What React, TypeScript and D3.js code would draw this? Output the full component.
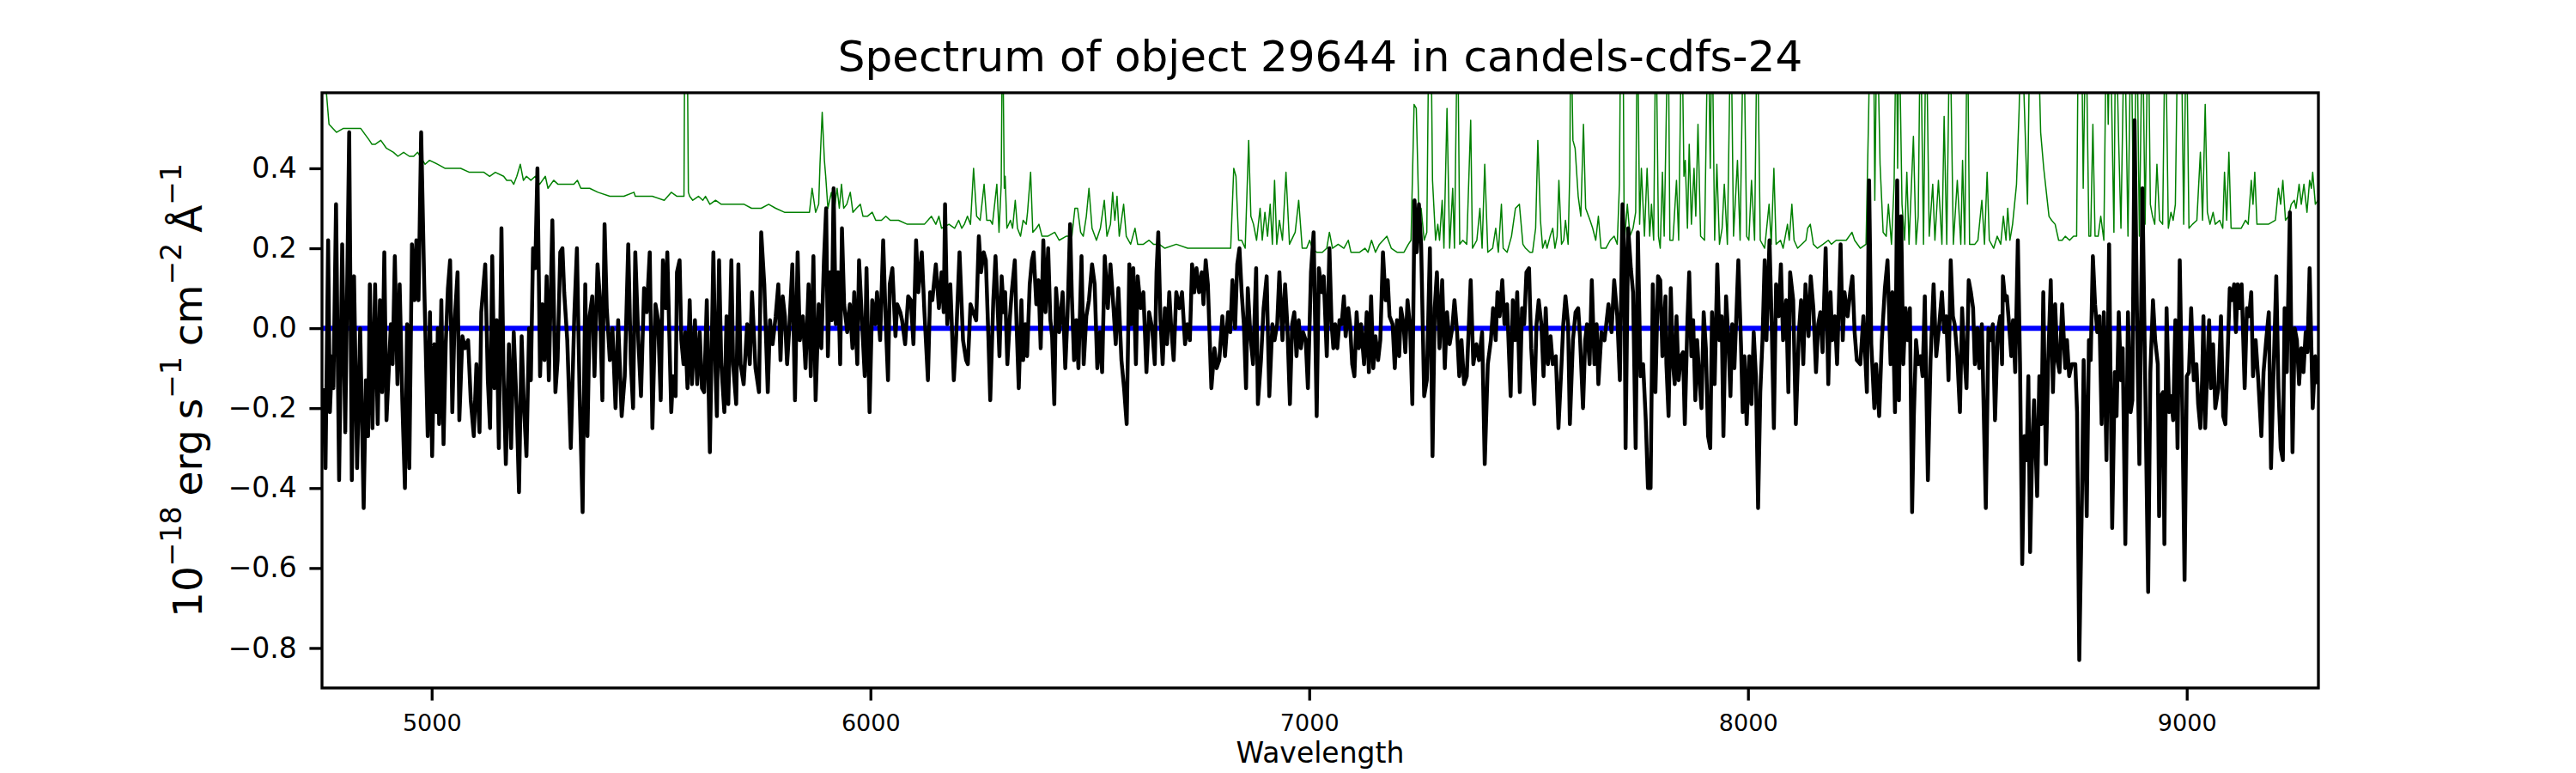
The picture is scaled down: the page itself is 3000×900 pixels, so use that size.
import { useRef, useEffect } from 'react';
import * as d3 from 'd3';

type Pt = [number, number];

const chartTitle = 'Spectrum of object 29644 in candels-cdfs-24';
const xLabel = 'Wavelength';
const xTickValues = [5000, 6000, 7000, 8000, 9000];
const yTickValues = [-0.8, -0.6, -0.4, -0.2, 0.0, 0.2, 0.4];
const wavelengthRange: [number, number] = [4750, 9300];
const fluxRange: [number, number] = [-0.9, 0.589];
const zeroLevel = 0;

// object flux (black), [wavelength, flux] in ~760 A chunks
const flux4750: Pt[] = [
  [4753, -0.15], [4758, -0.35], [4764, 0.22], [4768, -0.21], [4773, -0.07], [4776, -0.15], [4782, 0.31], [4789, -0.38], [4796, 0.21], [4803, -0.26],
  [4812, 0.49], [4818, -0.38], [4823, 0.13], [4830, -0.35], [4837, 0.0], [4845, -0.45], [4850, -0.13], [4855, -0.27], [4859, 0.11], [4865, -0.25],
  [4871, 0.11], [4877, -0.24], [4882, 0.07], [4887, -0.16], [4892, 0.19], [4897, -0.23], [4907, 0.01], [4911, -0.09], [4916, 0.18], [4922, -0.14],
  [4927, 0.11], [4933, -0.18], [4939, -0.4], [4944, 0.01], [4949, -0.35], [4955, 0.21], [4961, 0.07], [4965, 0.22], [4970, 0.07], [4976, 0.49],
  [4983, 0.11], [4991, -0.27], [4996, 0.04], [5001, -0.32], [5006, -0.04], [5011, -0.21], [5014, 0.0], [5017, -0.24], [5022, 0.07], [5027, -0.29],
  [5032, -0.04], [5037, 0.1], [5042, 0.17], [5047, -0.21], [5052, 0.01], [5059, 0.14], [5063, -0.23], [5070, -0.02], [5076, -0.05], [5083, -0.03],
  [5089, -0.18], [5096, -0.27], [5102, -0.09], [5109, -0.26], [5113, 0.04], [5122, 0.16], [5128, -0.13], [5133, -0.25], [5138, 0.18], [5143, -0.15],
  [5148, 0.02], [5153, -0.3], [5159, 0.25], [5164, -0.13], [5169, -0.34], [5176, -0.04], [5181, -0.3], [5187, -0.01], [5194, -0.21], [5199, -0.41],
  [5205, -0.02], [5210, -0.19], [5216, -0.32], [5222, 0.0], [5226, -0.13], [5231, 0.2], [5236, 0.15], [5241, 0.4], [5247, -0.12], [5252, 0.06],
  [5257, -0.08], [5262, 0.13], [5267, -0.13], [5275, 0.27], [5282, -0.16], [5287, -0.08], [5293, 0.19], [5298, 0.2], [5302, 0.09], [5309, -0.03],
  [5317, -0.3], [5325, 0.03], [5331, 0.2], [5337, -0.16], [5344, -0.46], [5350, 0.11], [5355, -0.27], [5360, 0.03], [5366, 0.08], [5371, -0.12],
  [5378, 0.16], [5383, 0.08], [5389, -0.18], [5394, 0.26], [5399, 0.05], [5406, -0.08], [5412, 0.0], [5419, -0.2], [5425, 0.02], [5433, -0.22],
  [5440, -0.12], [5448, 0.21], [5454, -0.09], [5459, -0.2], [5464, 0.19], [5471, -0.03], [5477, -0.17], [5484, 0.1], [5490, 0.04], [5497, 0.19],
  [5503, -0.25], [5510, 0.06], [5516, 0.02], [5522, -0.18],
];

const flux5520: Pt[] = [
  [5527, 0.17], [5533, 0.05], [5537, 0.19], [5543, -0.08], [5546, -0.21], [5550, -0.12], [5556, -0.17], [5559, 0.14], [5565, 0.17], [5569, -0.03],
  [5574, -0.09], [5578, -0.01], [5583, -0.15], [5588, 0.07], [5593, -0.14], [5600, 0.02], [5605, -0.14], [5611, -0.01], [5616, -0.15], [5621, -0.16],
  [5627, 0.07], [5634, -0.31], [5642, 0.19], [5647, -0.11], [5650, -0.22], [5655, 0.17], [5660, -0.09], [5667, -0.21], [5672, 0.03], [5676, -0.19],
  [5683, 0.17], [5687, -0.09], [5694, -0.19], [5699, 0.16], [5704, -0.09], [5711, -0.14], [5719, 0.01], [5725, -0.09], [5730, 0.09], [5738, -0.1],
  [5746, -0.16], [5751, 0.24], [5758, 0.11], [5766, -0.16], [5771, 0.02], [5777, -0.04], [5784, 0.03], [5790, 0.11], [5795, -0.08], [5800, 0.08],
  [5805, 0.03], [5810, -0.09], [5815, 0.0], [5822, 0.16], [5828, -0.18], [5834, 0.19], [5839, -0.03], [5846, 0.03], [5852, -0.1], [5859, 0.11],
  [5864, -0.12], [5870, 0.18], [5875, -0.18], [5882, 0.06], [5888, -0.05], [5894, 0.17], [5899, 0.3], [5903, -0.07], [5908, 0.14], [5912, 0.02],
  [5916, 0.35], [5921, 0.01], [5926, 0.14], [5931, -0.09], [5935, 0.25], [5940, 0.06], [5947, -0.01], [5953, 0.06], [5959, -0.05], [5963, 0.09],
  [5970, -0.09], [5974, 0.17], [5982, -0.01], [5987, -0.12], [5991, 0.15], [5998, -0.21], [6004, 0.07], [6011, 0.01], [6015, 0.09], [6022, -0.03],
  [6029, 0.22], [6035, 0.01], [6040, -0.13], [6044, 0.11], [6050, 0.15], [6057, -0.02], [6061, 0.06], [6068, 0.04], [6072, 0.02], [6079, -0.04],
  [6086, 0.08], [6092, 0.07], [6098, -0.04], [6104, 0.22], [6109, 0.09], [6117, 0.19], [6123, 0.04], [6131, -0.13], [6136, 0.09], [6141, 0.07],
  [6149, 0.16], [6156, 0.05], [6162, 0.14], [6167, 0.04], [6170, 0.31], [6175, 0.01], [6182, 0.11], [6190, -0.13], [6195, -0.03], [6203, 0.19],
  [6211, -0.03], [6218, -0.08], [6222, -0.09], [6228, 0.06], [6234, 0.04], [6241, 0.02], [6247, 0.23], [6252, 0.14], [6258, 0.19], [6263, 0.17],
  [6269, -0.03], [6273, -0.18], [6280, 0.07], [6285, 0.18],
];

const flux6290: Pt[] = [
  [6290, 0.05], [6294, -0.07], [6299, 0.13], [6304, 0.04], [6307, 0.09], [6312, -0.09], [6318, 0.03], [6322, 0.09], [6329, 0.17], [6333, 0.01],
  [6338, -0.15], [6344, 0.07], [6348, -0.08], [6353, 0.01], [6357, -0.07], [6363, 0.11], [6368, 0.17], [6372, 0.19], [6378, 0.06], [6383, 0.12],
  [6388, -0.05], [6394, 0.22], [6399, 0.04], [6405, 0.2], [6410, 0.02], [6414, -0.02], [6419, -0.19], [6423, 0.1], [6430, -0.01], [6438, 0.09],
  [6444, -0.1], [6449, 0.03], [6455, 0.26], [6459, 0.08], [6464, -0.08], [6469, 0.02], [6474, -0.1], [6481, 0.18], [6486, -0.09], [6492, 0.03],
  [6498, 0.07], [6505, 0.16], [6511, 0.11], [6517, -0.1], [6523, -0.01], [6528, -0.11], [6534, 0.18], [6541, 0.05], [6547, 0.16], [6554, 0.05],
  [6559, -0.04], [6565, 0.1], [6572, -0.08], [6578, -0.15], [6584, -0.24], [6590, 0.16], [6595, 0.01], [6599, 0.15], [6605, -0.09], [6609, 0.13],
  [6616, 0.05], [6622, 0.09], [6629, -0.11], [6635, 0.04], [6642, 0.0], [6648, -0.09], [6652, 0.14], [6656, 0.24], [6661, 0.02], [6666, -0.09],
  [6671, 0.05], [6676, -0.04], [6681, 0.09], [6685, 0.01], [6691, -0.08], [6697, 0.09], [6704, 0.05], [6710, 0.09], [6717, -0.04], [6722, 0.01],
  [6728, -0.03], [6733, 0.16], [6738, 0.09], [6743, 0.15], [6749, 0.09], [6755, 0.14], [6759, 0.06], [6764, 0.17], [6769, 0.11], [6777, -0.15],
  [6784, -0.05], [6789, -0.1], [6795, -0.08], [6802, 0.03], [6808, -0.07], [6815, 0.04], [6820, -0.01], [6825, 0.12], [6831, 0.0], [6836, 0.16],
  [6841, 0.2], [6846, 0.09], [6851, 0.01], [6856, -0.15], [6860, 0.1], [6866, -0.02], [6872, -0.09], [6879, 0.15], [6883, -0.19], [6890, -0.08],
  [6896, 0.05], [6903, 0.13], [6909, -0.17], [6916, 0.01], [6921, -0.03], [6927, 0.01], [6932, 0.14], [6939, -0.03], [6945, 0.11], [6950, 0.01],
  [6956, -0.19], [6961, 0.01], [6966, 0.04], [6971, -0.07], [6976, 0.02], [6981, -0.05], [6986, -0.01], [6992, -0.03], [6997, -0.15], [7004, 0.14],
  [7010, 0.24], [7017, -0.22], [7022, 0.15], [7029, 0.09], [7033, 0.13], [7040, -0.07], [7046, 0.2],
];

const flux7050: Pt[] = [
  [7051, 0.01], [7055, -0.05], [7059, 0.01], [7064, -0.05], [7069, 0.02], [7074, 0.01], [7079, 0.08], [7083, -0.02], [7089, 0.05], [7093, 0.01],
  [7098, -0.09], [7103, -0.12], [7108, 0.04], [7113, -0.05], [7118, 0.01], [7125, -0.09], [7131, 0.04], [7136, -0.11], [7141, 0.08], [7146, -0.1],
  [7151, -0.02], [7157, -0.08], [7162, -0.03], [7168, 0.19], [7174, 0.07], [7179, 0.12], [7183, 0.03], [7190, 0.01], [7195, -0.1], [7200, 0.02],
  [7205, -0.07], [7209, 0.05], [7215, 0.01], [7219, -0.06], [7224, 0.07], [7230, 0.0], [7235, -0.19], [7240, 0.32], [7245, 0.19], [7250, 0.31],
  [7255, 0.21], [7262, -0.17], [7268, -0.13], [7275, 0.2], [7281, -0.32], [7286, 0.05], [7291, 0.14], [7297, -0.05], [7303, 0.12], [7309, -0.1],
  [7314, 0.04], [7320, -0.04], [7326, 0.0], [7331, 0.07], [7337, -0.01], [7342, -0.12], [7347, -0.03], [7353, -0.14], [7359, -0.12], [7368, 0.12],
  [7374, -0.09], [7381, -0.04], [7387, -0.08], [7394, -0.01], [7400, -0.34], [7407, -0.09], [7414, -0.03], [7419, 0.05], [7425, -0.03], [7429, 0.09],
  [7434, 0.03], [7440, 0.12], [7445, 0.01], [7451, 0.06], [7459, -0.17], [7464, 0.07], [7469, -0.03], [7474, 0.09], [7480, -0.16], [7485, 0.05],
  [7490, 0.01], [7495, 0.14], [7501, 0.15], [7506, -0.05], [7513, -0.19], [7518, 0.01], [7523, 0.07], [7529, 0.01], [7534, -0.12], [7539, 0.05],
  [7544, -0.09], [7550, -0.02], [7555, -0.09], [7562, -0.07], [7568, -0.25], [7575, -0.09], [7579, 0.01], [7584, 0.08], [7590, 0.01], [7594, -0.24],
  [7601, -0.03], [7607, 0.04], [7613, 0.05], [7617, -0.02], [7624, -0.2], [7629, -0.03], [7633, 0.01], [7639, -0.09], [7644, 0.12], [7650, -0.09],
  [7655, 0.01], [7659, -0.14], [7666, -0.01], [7673, -0.03], [7677, 0.01], [7682, 0.06], [7689, -0.01], [7695, 0.12], [7702, 0.03], [7708, -0.13],
  [7714, 0.31], [7718, 0.19], [7721, -0.3], [7727, 0.25], [7733, 0.15], [7738, 0.09], [7744, -0.3], [7749, 0.24], [7755, -0.12], [7761, -0.09],
  [7767, -0.23], [7772, -0.4], [7778, -0.4], [7783, 0.11], [7789, -0.16], [7795, 0.13], [7800, 0.12], [7805, -0.07], [7812, 0.08],
];

const flux7810: Pt[] = [
  [7814, -0.09], [7819, -0.22], [7824, 0.1], [7829, -0.09], [7833, -0.14], [7837, 0.03], [7842, -0.13], [7847, -0.07], [7852, -0.06], [7856, -0.24],
  [7862, 0.02], [7866, 0.14], [7871, -0.07], [7875, 0.02], [7880, -0.18], [7884, -0.03], [7890, -0.14], [7894, -0.2], [7899, 0.04], [7904, -0.05],
  [7909, -0.27], [7914, -0.3], [7918, 0.04], [7924, -0.14], [7930, 0.16], [7935, -0.03], [7940, 0.03], [7944, -0.27], [7950, 0.08], [7955, -0.02],
  [7960, -0.17], [7964, 0.01], [7969, -0.1], [7978, 0.17], [7984, -0.04], [7988, -0.21], [7992, -0.07], [7997, -0.24], [8003, -0.07], [8008, -0.19],
  [8013, -0.01], [8018, -0.12], [8023, -0.45], [8028, -0.16], [8033, -0.03], [8038, 0.17], [8042, -0.03], [8049, 0.22], [8054, 0.01], [8059, -0.25],
  [8064, 0.11], [8070, 0.03], [8075, 0.16], [8080, -0.03], [8087, 0.07], [8092, -0.16], [8096, 0.14], [8103, 0.07], [8109, -0.24], [8116, -0.01],
  [8121, 0.07], [8126, -0.09], [8131, 0.11], [8138, -0.02], [8143, 0.13], [8149, 0.05], [8155, -0.11], [8160, 0.01], [8165, 0.04], [8170, -0.06],
  [8177, 0.2], [8183, -0.14], [8188, 0.09], [8192, -0.03], [8198, 0.03], [8203, -0.09], [8211, 0.21], [8216, -0.03], [8220, 0.09], [8227, 0.03],
  [8233, 0.09], [8238, 0.13], [8243, -0.01], [8248, -0.08], [8256, -0.09], [8263, 0.03], [8271, -0.16], [8276, 0.37], [8281, -0.04], [8288, -0.2],
  [8292, -0.09], [8299, -0.22], [8305, -0.03], [8312, 0.1], [8318, 0.17], [8325, -0.09], [8329, 0.09], [8335, -0.21], [8340, 0.37], [8344, -0.18],
  [8349, 0.28], [8354, -0.09], [8359, 0.05], [8364, -0.03], [8369, 0.05], [8374, -0.46], [8378, -0.22], [8383, -0.03], [8388, -0.09], [8393, -0.07],
  [8398, -0.12], [8403, 0.08], [8410, -0.38], [8416, -0.08], [8423, 0.11], [8429, -0.07], [8436, 0.01], [8442, 0.09], [8447, -0.01], [8452, 0.03],
  [8457, -0.13], [8462, 0.17], [8467, 0.03], [8471, 0.01], [8477, -0.07], [8483, -0.21], [8488, 0.05], [8492, -0.05], [8498, -0.15], [8503, 0.12],
  [8508, 0.09], [8513, 0.05], [8517, -0.09], [8523, 0.0], [8527, -0.1], [8533, 0.01], [8542, -0.45], [8548, 0.0], [8553, -0.03], [8558, 0.01],
  [8563, -0.23], [8569, -0.01], [8575, 0.03],
];

const flux8580: Pt[] = [
  [8579, -0.09], [8581, 0.13], [8586, 0.07], [8590, 0.08], [8595, 0.01], [8600, -0.07], [8604, 0.02], [8609, -0.11], [8615, 0.22], [8620, -0.09],
  [8625, -0.59], [8630, -0.27], [8635, -0.33], [8639, -0.12], [8643, -0.56], [8648, -0.29], [8652, -0.18], [8659, -0.42], [8664, -0.12], [8669, -0.24],
  [8673, 0.09], [8679, -0.34], [8684, -0.09], [8690, 0.12], [8695, -0.16], [8700, 0.06], [8705, -0.08], [8710, -0.11], [8716, 0.06], [8723, -0.1],
  [8727, -0.03], [8732, -0.12], [8738, -0.09], [8746, -0.09], [8750, -0.21], [8755, -0.83], [8761, -0.43], [8765, -0.08], [8772, -0.47], [8777, -0.03],
  [8781, -0.08], [8786, 0.18], [8791, 0.06], [8796, -0.01], [8801, 0.03], [8806, -0.24], [8811, 0.04], [8817, -0.33], [8823, 0.21], [8830, -0.5],
  [8836, -0.11], [8840, -0.22], [8845, 0.04], [8850, -0.13], [8854, -0.05], [8860, -0.54], [8866, 0.04], [8872, -0.21], [8876, -0.18], [8881, 0.52],
  [8888, -0.09], [8892, -0.34], [8899, 0.35], [8905, -0.11], [8912, -0.66], [8917, -0.11], [8923, 0.07], [8928, -0.03], [8934, -0.09], [8937, -0.47],
  [8941, -0.17], [8946, -0.16], [8949, -0.54], [8954, 0.05], [8960, -0.21], [8964, -0.17], [8969, -0.23], [8974, 0.02], [8979, -0.3], [8984, 0.17],
  [8990, -0.21], [8995, -0.63], [9000, -0.12], [9005, -0.11], [9010, 0.05], [9016, -0.13], [9022, -0.09], [9026, -0.19], [9031, -0.25], [9035, -0.13],
  [9038, 0.03], [9042, -0.25], [9047, -0.09], [9051, 0.02], [9055, -0.15], [9060, -0.04], [9065, -0.2], [9072, -0.15], [9078, 0.03], [9083, -0.22],
  [9088, -0.24], [9093, -0.07], [9098, 0.1], [9103, 0.07], [9108, 0.11], [9112, -0.01], [9116, 0.11], [9121, 0.05], [9125, 0.11], [9132, -0.15],
  [9137, 0.05], [9142, 0.03], [9147, 0.09], [9151, -0.12], [9157, -0.03], [9163, -0.13], [9170, -0.27], [9175, -0.11], [9181, -0.03], [9187, 0.04],
  [9192, -0.35], [9197, -0.14], [9204, 0.13], [9209, -0.15], [9214, -0.3], [9219, -0.33], [9223, 0.05], [9228, -0.11], [9235, 0.29], [9241, -0.31],
  [9246, 0.0], [9251, -0.03], [9256, -0.14], [9261, -0.05], [9266, -0.11], [9271, -0.01], [9275, -0.06], [9280, 0.15], [9287, -0.2], [9293, -0.07],
  [9299, -0.14],
];

// noise / sky spectrum (green); 0.8 marks lines that run off the top of the plot
const noise4750: Pt[] = [
  [4750, 0.7], [4760, 0.59], [4766, 0.51], [4783, 0.49], [4799, 0.5], [4812, 0.5], [4838, 0.5], [4858, 0.47], [4864, 0.46], [4871, 0.46],
  [4884, 0.47], [4897, 0.45], [4913, 0.44], [4923, 0.43], [4936, 0.44], [4949, 0.43], [4959, 0.43], [4968, 0.44], [4985, 0.41], [4995, 0.42],
  [5014, 0.41], [5030, 0.4], [5047, 0.4], [5066, 0.4], [5086, 0.39], [5099, 0.39], [5119, 0.39], [5132, 0.38], [5145, 0.39], [5164, 0.38],
  [5171, 0.37], [5181, 0.37], [5187, 0.36], [5194, 0.38], [5202, 0.41], [5209, 0.37], [5216, 0.38], [5226, 0.37], [5236, 0.38], [5246, 0.36],
  [5259, 0.38], [5265, 0.35], [5278, 0.37], [5288, 0.36], [5308, 0.36], [5324, 0.36], [5332, 0.37], [5340, 0.35], [5360, 0.35], [5379, 0.34],
  [5406, 0.33], [5419, 0.33], [5438, 0.33], [5461, 0.34], [5464, 0.33], [5490, 0.33],
];

const noise5500: Pt[] = [
  [5503, 0.33], [5530, 0.32], [5546, 0.34], [5559, 0.33], [5572, 0.33], [5575, 0.33], [5577, 0.8], [5582, 0.8], [5585, 0.34], [5588, 0.33],
  [5595, 0.32], [5608, 0.33], [5618, 0.32], [5624, 0.33], [5634, 0.31], [5647, 0.32], [5660, 0.31], [5673, 0.31], [5693, 0.31], [5712, 0.31],
  [5729, 0.3], [5751, 0.3], [5768, 0.31], [5784, 0.3], [5804, 0.29], [5823, 0.29], [5843, 0.29], [5861, 0.29], [5867, 0.35], [5875, 0.29],
  [5882, 0.31], [5885, 0.41], [5890, 0.54], [5895, 0.42], [5898, 0.38], [5903, 0.3], [5911, 0.34], [5918, 0.3], [5924, 0.35], [5929, 0.3],
  [5934, 0.36], [5939, 0.3], [5946, 0.31], [5954, 0.34], [5960, 0.29], [5968, 0.3], [5977, 0.31], [5983, 0.28], [5993, 0.28], [6004, 0.29],
  [6012, 0.27], [6025, 0.27], [6035, 0.28], [6045, 0.27], [6064, 0.27], [6084, 0.26], [6100, 0.26], [6123, 0.26], [6139, 0.28], [6149, 0.26],
  [6156, 0.28], [6162, 0.25], [6179, 0.26], [6192, 0.25], [6201, 0.27], [6208, 0.25], [6214, 0.26], [6221, 0.28], [6228, 0.26], [6235, 0.4],
  [6242, 0.28], [6250, 0.27], [6259, 0.36], [6265, 0.27],
];

const noise6270: Pt[] = [
  [6273, 0.27], [6278, 0.26], [6288, 0.36], [6293, 0.24], [6298, 0.36], [6301, 0.8], [6305, 0.35], [6307, 0.38], [6311, 0.25], [6319, 0.27],
  [6324, 0.25], [6330, 0.32], [6335, 0.25], [6342, 0.23], [6348, 0.27], [6355, 0.26], [6358, 0.29], [6365, 0.39], [6370, 0.24], [6378, 0.25],
  [6384, 0.26], [6391, 0.23], [6404, 0.23], [6420, 0.24], [6430, 0.22], [6446, 0.23], [6459, 0.23], [6466, 0.3], [6472, 0.3], [6479, 0.24],
  [6485, 0.23], [6492, 0.28], [6498, 0.35], [6505, 0.25], [6515, 0.22], [6524, 0.25], [6533, 0.32], [6539, 0.23], [6547, 0.26], [6552, 0.34],
  [6557, 0.27], [6562, 0.33], [6567, 0.23], [6577, 0.31], [6583, 0.23], [6593, 0.21], [6603, 0.25], [6609, 0.21], [6622, 0.21], [6635, 0.22],
  [6645, 0.21], [6658, 0.21], [6671, 0.2], [6697, 0.21], [6723, 0.2], [6749, 0.2], [6782, 0.2], [6789, 0.2], [6821, 0.2], [6828, 0.4],
  [6833, 0.38], [6839, 0.22], [6846, 0.22], [6854, 0.2], [6862, 0.47], [6867, 0.28], [6873, 0.26], [6880, 0.22], [6888, 0.3], [6893, 0.22],
  [6899, 0.29], [6905, 0.23], [6911, 0.31], [6916, 0.21], [6921, 0.37], [6926, 0.21], [6932, 0.27], [6939, 0.22], [6947, 0.39], [6955, 0.21],
  [6968, 0.24], [6976, 0.32], [6984, 0.2], [6994, 0.2], [7001, 0.22], [7007, 0.2], [7017, 0.19],
];

const noise7030: Pt[] = [
  [7030, 0.19], [7040, 0.2], [7046, 0.24], [7053, 0.2], [7066, 0.21], [7079, 0.2], [7089, 0.22], [7095, 0.19], [7115, 0.19], [7127, 0.2],
  [7134, 0.19], [7142, 0.22], [7151, 0.19], [7160, 0.21], [7177, 0.23], [7187, 0.2], [7200, 0.19], [7216, 0.19], [7226, 0.21], [7232, 0.22],
  [7239, 0.56], [7244, 0.55], [7250, 0.28], [7255, 0.3], [7262, 0.22], [7268, 0.24], [7273, 0.8], [7277, 0.8], [7281, 0.37], [7288, 0.22],
  [7293, 0.26], [7297, 0.22], [7303, 0.32], [7307, 0.2], [7314, 0.55], [7320, 0.2], [7327, 0.35], [7331, 0.2], [7338, 0.8], [7343, 0.21],
  [7350, 0.22], [7359, 0.21], [7368, 0.52], [7372, 0.2], [7382, 0.22], [7389, 0.3], [7394, 0.2], [7400, 0.41], [7407, 0.19], [7418, 0.2],
  [7425, 0.25], [7431, 0.19], [7438, 0.31], [7442, 0.2], [7451, 0.19], [7461, 0.23], [7470, 0.3], [7479, 0.31], [7487, 0.21], [7493, 0.2],
  [7503, 0.19], [7509, 0.19], [7516, 0.25], [7521, 0.47], [7527, 0.27], [7532, 0.2], [7538, 0.22], [7542, 0.2], [7549, 0.23], [7555, 0.25],
  [7560, 0.2], [7565, 0.23], [7569, 0.37], [7575, 0.21], [7580, 0.22], [7584, 0.27], [7590, 0.21], [7594, 0.4], [7596, 0.8], [7601, 0.47],
  [7606, 0.45], [7613, 0.33], [7619, 0.28], [7625, 0.51], [7630, 0.3], [7640, 0.27], [7646, 0.25], [7653, 0.22], [7659, 0.28], [7665, 0.2],
  [7676, 0.2], [7686, 0.22], [7695, 0.23], [7702, 0.21], [7707, 0.36], [7710, 0.8], [7715, 0.8], [7718, 0.21], [7725, 0.31], [7731, 0.23],
  [7738, 0.25], [7744, 0.29], [7748, 0.8], [7753, 0.26], [7757, 0.4], [7764, 0.23], [7770, 0.4], [7776, 0.23], [7780, 0.31], [7785, 0.22],
  [7790, 0.8], [7796, 0.23], [7800, 0.2],
];

const noise7805: Pt[] = [
  [7805, 0.39], [7809, 0.23], [7818, 0.8], [7822, 0.22], [7829, 0.22], [7837, 0.37], [7842, 0.22], [7849, 0.8], [7854, 0.38], [7857, 0.42],
  [7862, 0.25], [7866, 0.46], [7871, 0.26], [7877, 0.4], [7881, 0.28], [7886, 0.51], [7892, 0.23], [7901, 0.22], [7909, 0.8], [7914, 0.4],
  [7918, 0.8], [7924, 0.22], [7929, 0.41], [7935, 0.21], [7941, 0.25], [7946, 0.36], [7953, 0.21], [7961, 0.8], [7967, 0.23], [7976, 0.42],
  [7982, 0.22], [7990, 0.8], [7997, 0.23], [8002, 0.22], [8008, 0.37], [8015, 0.22], [8021, 0.8], [8028, 0.22], [8038, 0.2], [8048, 0.31],
  [8053, 0.21], [8059, 0.4], [8064, 0.21], [8074, 0.22], [8080, 0.2], [8090, 0.26], [8094, 0.22], [8100, 0.31], [8105, 0.22], [8113, 0.2],
  [8132, 0.22], [8136, 0.25], [8142, 0.26], [8149, 0.21], [8158, 0.2], [8171, 0.21], [8183, 0.22], [8190, 0.21], [8201, 0.22], [8211, 0.22],
  [8224, 0.22], [8237, 0.24], [8243, 0.22], [8256, 0.2], [8269, 0.21], [8275, 0.54], [8279, 0.8], [8286, 0.8], [8289, 0.32], [8294, 0.8],
  [8301, 0.41], [8308, 0.24], [8315, 0.23], [8320, 0.31], [8327, 0.21], [8333, 0.36], [8338, 0.8], [8341, 0.4], [8344, 0.8], [8351, 0.31],
  [8357, 0.22], [8362, 0.39], [8367, 0.21], [8377, 0.48], [8383, 0.21], [8388, 0.28], [8393, 0.8], [8400, 0.21], [8406, 0.8], [8413, 0.23],
  [8421, 0.36], [8426, 0.22], [8434, 0.37], [8442, 0.21], [8447, 0.53], [8453, 0.21], [8460, 0.8], [8468, 0.21], [8477, 0.37], [8485, 0.21],
  [8489, 0.42], [8494, 0.21], [8500, 0.8], [8505, 0.21], [8511, 0.21], [8517, 0.21], [8524, 0.22], [8533, 0.32], [8539, 0.21], [8545, 0.39],
  [8550, 0.22], [8560, 0.2], [8568, 0.23],
];

const noise8575: Pt[] = [
  [8576, 0.21], [8582, 0.28], [8588, 0.22], [8592, 0.3], [8597, 0.22], [8603, 0.26], [8612, 0.36], [8618, 0.55], [8623, 0.8], [8630, 0.55],
  [8637, 0.31], [8643, 0.8], [8660, 0.8], [8667, 0.49], [8674, 0.4], [8680, 0.34], [8686, 0.28], [8692, 0.27], [8700, 0.26], [8708, 0.22],
  [8716, 0.22], [8723, 0.23], [8733, 0.22], [8742, 0.23], [8749, 0.23], [8753, 0.8], [8760, 0.8], [8764, 0.35], [8770, 0.8], [8777, 0.23],
  [8781, 0.23], [8786, 0.51], [8791, 0.23], [8798, 0.23], [8804, 0.28], [8811, 0.22], [8817, 0.8], [8821, 0.51], [8825, 0.8], [8834, 0.24],
  [8838, 0.8], [8845, 0.46], [8850, 0.25], [8858, 0.8], [8866, 0.23], [8873, 0.8], [8879, 0.23], [8886, 0.8], [8892, 0.23], [8899, 0.8],
  [8905, 0.26], [8912, 0.8], [8917, 0.31], [8922, 0.28], [8927, 0.26], [8932, 0.41], [8938, 0.27], [8945, 0.26], [8951, 0.8], [8958, 0.25],
  [8964, 0.29], [8969, 0.27], [8974, 0.31], [8980, 0.8], [8987, 0.8], [8993, 0.26], [8999, 0.8], [9005, 0.25], [9013, 0.26], [9023, 0.27],
  [9031, 0.44], [9036, 0.27], [9042, 0.56], [9047, 0.29], [9053, 0.26], [9060, 0.29], [9065, 0.26], [9075, 0.27], [9082, 0.25], [9086, 0.39],
  [9091, 0.27], [9096, 0.44], [9101, 0.25], [9111, 0.25], [9124, 0.25], [9134, 0.27], [9140, 0.26], [9147, 0.37], [9151, 0.31], [9155, 0.39],
  [9160, 0.26], [9173, 0.26], [9186, 0.26], [9202, 0.27], [9209, 0.35], [9214, 0.31], [9219, 0.37], [9225, 0.27], [9232, 0.28], [9238, 0.31],
  [9245, 0.32], [9249, 0.3], [9256, 0.36], [9261, 0.31], [9267, 0.36], [9274, 0.29], [9280, 0.37], [9284, 0.35], [9287, 0.39], [9293, 0.31],
  [9299, 0.32],
];

// y label pieces: [text, is superscript]; a gap is put before each plain word
const yLabelParts: [string, boolean][] = [
  ['10', false], ['\u221218', true], ['erg', false], ['s', false], ['\u22121', true],
  ['cm', false], ['\u22122', true], ['\u00c5', false], ['\u22121', true],
];

const SpectrumChart = () => {
  const svgRef = useRef<SVGSVGElement>(null);

  useEffect(() => {
    const W = 3000;
    const H = 900;
    const left = 375, right = 2700, top = 108, bottom = 801;
    const font = "'DejaVu Sans', sans-serif";

    const svg = d3.select(svgRef.current)
      .attr('width', W)
      .attr('height', H);

    svg.selectAll('*').remove(); // Clear previous content

    svg.append('rect').attr('width', W).attr('height', H).attr('fill', '#ffffff');

    const xScale = d3.scaleLinear().domain(wavelengthRange).range([left, right]);
    const yScale = d3.scaleLinear().domain(fluxRange).range([bottom, top]);

    svg.append('defs').append('clipPath').attr('id', 'plot-area')
      .append('rect')
      .attr('x', left).attr('y', top)
      .attr('width', right - left).attr('height', bottom - top);

    const flux = d3.sort([...flux4750, ...flux5520, ...flux6290, ...flux7050, ...flux7810, ...flux8580], d => d[0]);
    const noise = d3.sort([...noise4750, ...noise5500, ...noise6270, ...noise7030, ...noise7805, ...noise8575], d => d[0]);

    const line = d3.line<Pt>()
      .x(d => xScale(d[0]))
      .y(d => yScale(d[1]));

    const plot = svg.append('g').attr('clip-path', 'url(#plot-area)');

    plot.append('path')
      .datum(noise)
      .attr('d', line)
      .attr('fill', 'none')
      .attr('stroke', '#008000')
      .attr('stroke-width', 1.5)
      .attr('stroke-linejoin', 'round');

    plot.append('line')
      .attr('x1', xScale(wavelengthRange[0]))
      .attr('x2', xScale(wavelengthRange[1]))
      .attr('y1', yScale(zeroLevel))
      .attr('y2', yScale(zeroLevel))
      .attr('stroke', '#0000ff')
      .attr('stroke-width', 6);

    plot.append('path')
      .datum(flux)
      .attr('d', line)
      .attr('fill', 'none')
      .attr('stroke', '#000000')
      .attr('stroke-width', 4.5)
      .attr('stroke-linejoin', 'round');

    // x axis
    const xAxis = svg.append('g')
      .attr('transform', `translate(0, ${bottom})`)
      .call(d3.axisBottom(xScale).tickValues(xTickValues).tickFormat(d3.format('d')).tickSize(14.6).tickPadding(16));
    xAxis.select('.domain').remove();
    xAxis.selectAll('line').attr('stroke', '#000').attr('stroke-width', 3.3);
    xAxis.selectAll('text').attr('fill', '#000').style('font-family', font).style('font-size', '27px');

    // y axis
    const yAxis = svg.append('g')
      .attr('transform', `translate(${left}, 0)`)
      .call(d3.axisLeft(yScale).tickValues(yTickValues).tickFormat(d3.format('.1f')).tickSize(14.6).tickPadding(14.6));
    yAxis.select('.domain').remove();
    yAxis.selectAll('line').attr('stroke', '#000').attr('stroke-width', 3.3);
    yAxis.selectAll('text').attr('fill', '#000').style('font-family', font).style('font-size', '33px');

    // spines
    svg.append('rect')
      .attr('x', left).attr('y', top)
      .attr('width', right - left).attr('height', bottom - top)
      .attr('fill', 'none')
      .attr('stroke', '#000')
      .attr('stroke-width', 3.3);

    const midX = (left + right) / 2;

    svg.append('text')
      .attr('x', midX).attr('y', 83)
      .attr('text-anchor', 'middle')
      .style('font-family', font).style('font-size', '50px')
      .text(chartTitle);

    svg.append('text')
      .attr('x', midX).attr('y', 888)
      .attr('text-anchor', 'middle')
      .style('font-family', font).style('font-size', '33px')
      .text(xLabel);

    const yLabelSize = 47;
    const supSize = Math.round(yLabelSize * 0.7);
    const supShift = Math.round(yLabelSize * 0.5);
    const gap = Math.round(yLabelSize * 0.25);
    const yLabel = svg.append('text')
      .attr('transform', `translate(235, ${(top + bottom) / 2}) rotate(-90)`)
      .attr('text-anchor', 'middle')
      .style('font-family', font)
      .style('font-size', `${yLabelSize}px`);
    let raised = false;
    yLabelParts.forEach(([t, sup], i) => {
      const span = yLabel.append('tspan').text(t);
      if (sup) {
        span.style('font-size', `${supSize}px`);
        if (!raised) span.attr('dy', -supShift);
        raised = true;
      } else {
        if (raised) span.attr('dy', supShift);
        if (i > 0) span.attr('dx', gap);
        raised = false;
      }
    });
  }, []);

  return <svg ref={svgRef} style={{ position: 'absolute', left: 0, top: 0 }}></svg>;
};

export default function App() {
  return <SpectrumChart />;
}
